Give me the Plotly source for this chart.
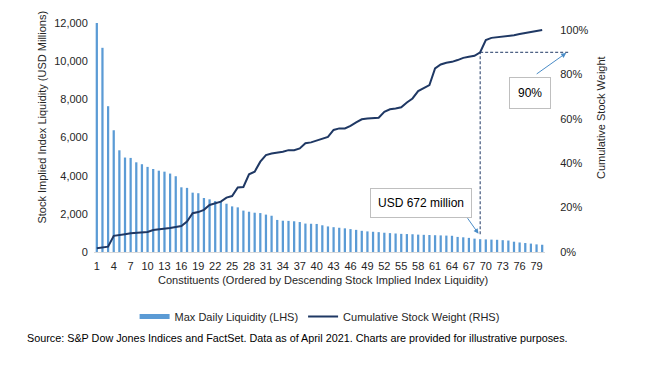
import plotly.graph_objects as go

# ---------------- data ----------------
constituents = list(range(1, 81))
max_daily_liquidity = [
    12000, 10700, 7640, 6380, 5330, 4950, 4930, 4700, 4600, 4460,
    4350, 4260, 4210, 4110, 3970, 3390, 3360, 3110, 3080, 2830,
    2760, 2670, 2640, 2530, 2390, 2340, 2170, 2110, 2060, 2040,
    1960, 1900, 1680, 1640, 1630, 1610, 1570, 1490, 1480, 1470,
    1400, 1340, 1300, 1270, 1240, 1200, 1160, 1110, 1080, 1060,
    1040, 1010, 990, 970, 950, 940, 930, 910, 900, 890,
    880, 870, 860, 850, 790, 770, 740, 700, 672, 660,
    650, 640, 620, 600, 540, 500, 470, 440, 400, 380,
]
cumulative_weight = [
    0.017, 0.019, 0.024, 0.073, 0.075, 0.080, 0.084, 0.086, 0.087, 0.090,
    0.099, 0.101, 0.104, 0.108, 0.113, 0.117, 0.137, 0.175, 0.180, 0.190,
    0.212, 0.219, 0.227, 0.245, 0.252, 0.291, 0.293, 0.350, 0.362, 0.407,
    0.437, 0.444, 0.447, 0.452, 0.459, 0.459, 0.467, 0.490, 0.494, 0.502,
    0.508, 0.519, 0.550, 0.557, 0.557, 0.568, 0.584, 0.598, 0.602, 0.602,
    0.605, 0.632, 0.643, 0.647, 0.652, 0.674, 0.692, 0.725, 0.737, 0.752,
    0.827, 0.845, 0.853, 0.857, 0.865, 0.875, 0.880, 0.884, 0.900, 0.955,
    0.965, 0.968, 0.969, 0.974, 0.977, 0.982, 0.986, 0.990, 0.995, 1.000,
]
x_tick_values = [1, 4, 7, 10, 13, 16, 19, 22, 25, 28, 31, 34, 37, 40,
                 43, 46, 49, 52, 55, 58, 61, 64, 67, 70, 73, 76, 79]
x_tick_labels = [str(v) for v in x_tick_values]
left_ticks = [0, 2000, 4000, 6000, 8000, 10000, 12000]
right_ticks = [0, 0.2, 0.4, 0.6, 0.8, 1.0]
highlight_index = 69          # constituent reaching 90% cumulative weight
highlight_liquidity = 672
highlight_weight = 0.90

# ---------------- styles ----------------
FONT = "Liberation Sans, Arial, sans-serif"
TXT = "#262626"
BAR = "#5B9BD5"
LINE = "#1F3864"
N = len(constituents)

fig = go.Figure()
fig.add_trace(go.Bar(
    x=constituents, y=max_daily_liquidity, marker=dict(color=BAR, line=dict(width=0)),
    name="Max Daily Liquidity (LHS)", showlegend=False, yaxis="y",
))
fig.add_trace(go.Scatter(
    x=constituents, y=cumulative_weight, mode="lines",
    line=dict(color=LINE, width=2), name="Cumulative Stock Weight (RHS)",
    showlegend=False, yaxis="y2",
))
# legend proxies (line-style keys as in the reference)
fig.add_trace(go.Scatter(x=[None], y=[None], mode="lines",
                         line=dict(color=BAR, width=5),
                         name="Max Daily Liquidity (LHS)", yaxis="y"))
fig.add_trace(go.Scatter(x=[None], y=[None], mode="lines",
                         line=dict(color=LINE, width=2),
                         name="Cumulative Stock Weight (RHS)", yaxis="y2"))

def xpaper(i):
    return (i - 0.5) / N

def txt(text, x, y, size=11, color=TXT, angle=0, xanchor="center"):
    return dict(text=text, textangle=angle, xref="paper", yref="paper", x=x, y=y,
                xanchor=xanchor, yanchor="middle", showarrow=False,
                font=dict(size=size, color=color, family=FONT))

annotations = [
    txt("Stock Implied Index Liquidity (USD Millions)", -0.1152, 0.587, angle=-90),
    txt("Cumulative Stock Weight", 1.123, 0.587, angle=-90),
    txt("Constituents (Ordered by Descending Stock Implied Index Liquidity)", 0.508, -0.1223),
    txt("Source: S&P Dow Jones Indices and FactSet. Data as of April 2021. Charts are provided for illustrative purposes.",
        -0.1534, -0.3755, size=10.8, color="#000000", xanchor="left"),
    # callout boxes
    dict(text="USD %d million" % highlight_liquidity, xref="paper", yref="paper",
         x=0.7243, y=0.212, xanchor="center", yanchor="middle", showarrow=False,
         bgcolor="white", bordercolor="#BFBFBF", borderwidth=1, borderpad=7,
         font=dict(size=12, color="#000000", family=FONT)),
    dict(text="%d%%" % round(highlight_weight * 100), xref="paper", yref="paper",
         x=0.967, y=0.694, xanchor="center", yanchor="middle", showarrow=False,
         bgcolor="white", bordercolor="#BFBFBF", borderwidth=1, borderpad=8,
         font=dict(size=12, color="#000000", family=FONT)),
    # arrows
    dict(text="", xref="x", yref="paper", x=highlight_index - 0.3, y=0.08,
         ax=-12, ay=-17, showarrow=True, arrowhead=2, arrowsize=1,
         arrowwidth=1, arrowcolor="#4A8CC7"),
    dict(text="", xref="paper", yref="paper", x=1.047, y=0.869,
         ax=-31, ay=22, showarrow=True, arrowhead=2, arrowsize=1,
         arrowwidth=1, arrowcolor="#4A8CC7"),
]

shapes = [
    dict(type="line", xref="x", yref="y2", x0=highlight_index, x1=highlight_index,
         y0=0.08, y1=highlight_weight, line=dict(color=LINE, width=1, dash="3px,2px")),
    dict(type="line", xref="paper", yref="y2", x0=xpaper(highlight_index), x1=1.054,
         y0=highlight_weight, y1=highlight_weight,
         line=dict(color=LINE, width=1, dash="3px,2px")),
]

fig.update_layout(
    width=656, height=378,
    margin=dict(l=86, r=119, t=15, b=134, autoexpand=False),
    paper_bgcolor="white", plot_bgcolor="white",
    font=dict(family=FONT, size=11, color=TXT),
    bargap=0.6,
    xaxis=dict(range=[0.5, N + 0.5], tickmode="array", tickvals=x_tick_values,
               ticktext=x_tick_labels, showgrid=False, zeroline=False,
               showline=True, linecolor="#D9D9D9", linewidth=1, ticks="outside",
               ticklen=4, tickcolor="rgba(0,0,0,0)",
               tickfont=dict(size=11, color=TXT)),
    yaxis=dict(range=[0, 12000], tickmode="array", tickvals=left_ticks,
               tickformat=",", showgrid=False, zeroline=False, showline=False,
               ticks="outside", ticklen=3, tickcolor="rgba(0,0,0,0)",
               tickfont=dict(size=11, color=TXT)),
    yaxis2=dict(range=[0, 1.032], overlaying="y", side="right", tickmode="array",
                tickvals=right_ticks, tickformat=".0%", showgrid=False,
                zeroline=False, showline=False, ticks="outside", ticklen=12,
                tickcolor="rgba(0,0,0,0)", tickfont=dict(size=11, color=TXT)),
    legend=dict(orientation="h", x=0.09, y=-0.218, xanchor="left", yanchor="top",
                font=dict(size=11, color=TXT, family=FONT), itemwidth=30,
                bgcolor="rgba(0,0,0,0)"),
    annotations=annotations, shapes=shapes,
)

fig.write_html("out.html")
